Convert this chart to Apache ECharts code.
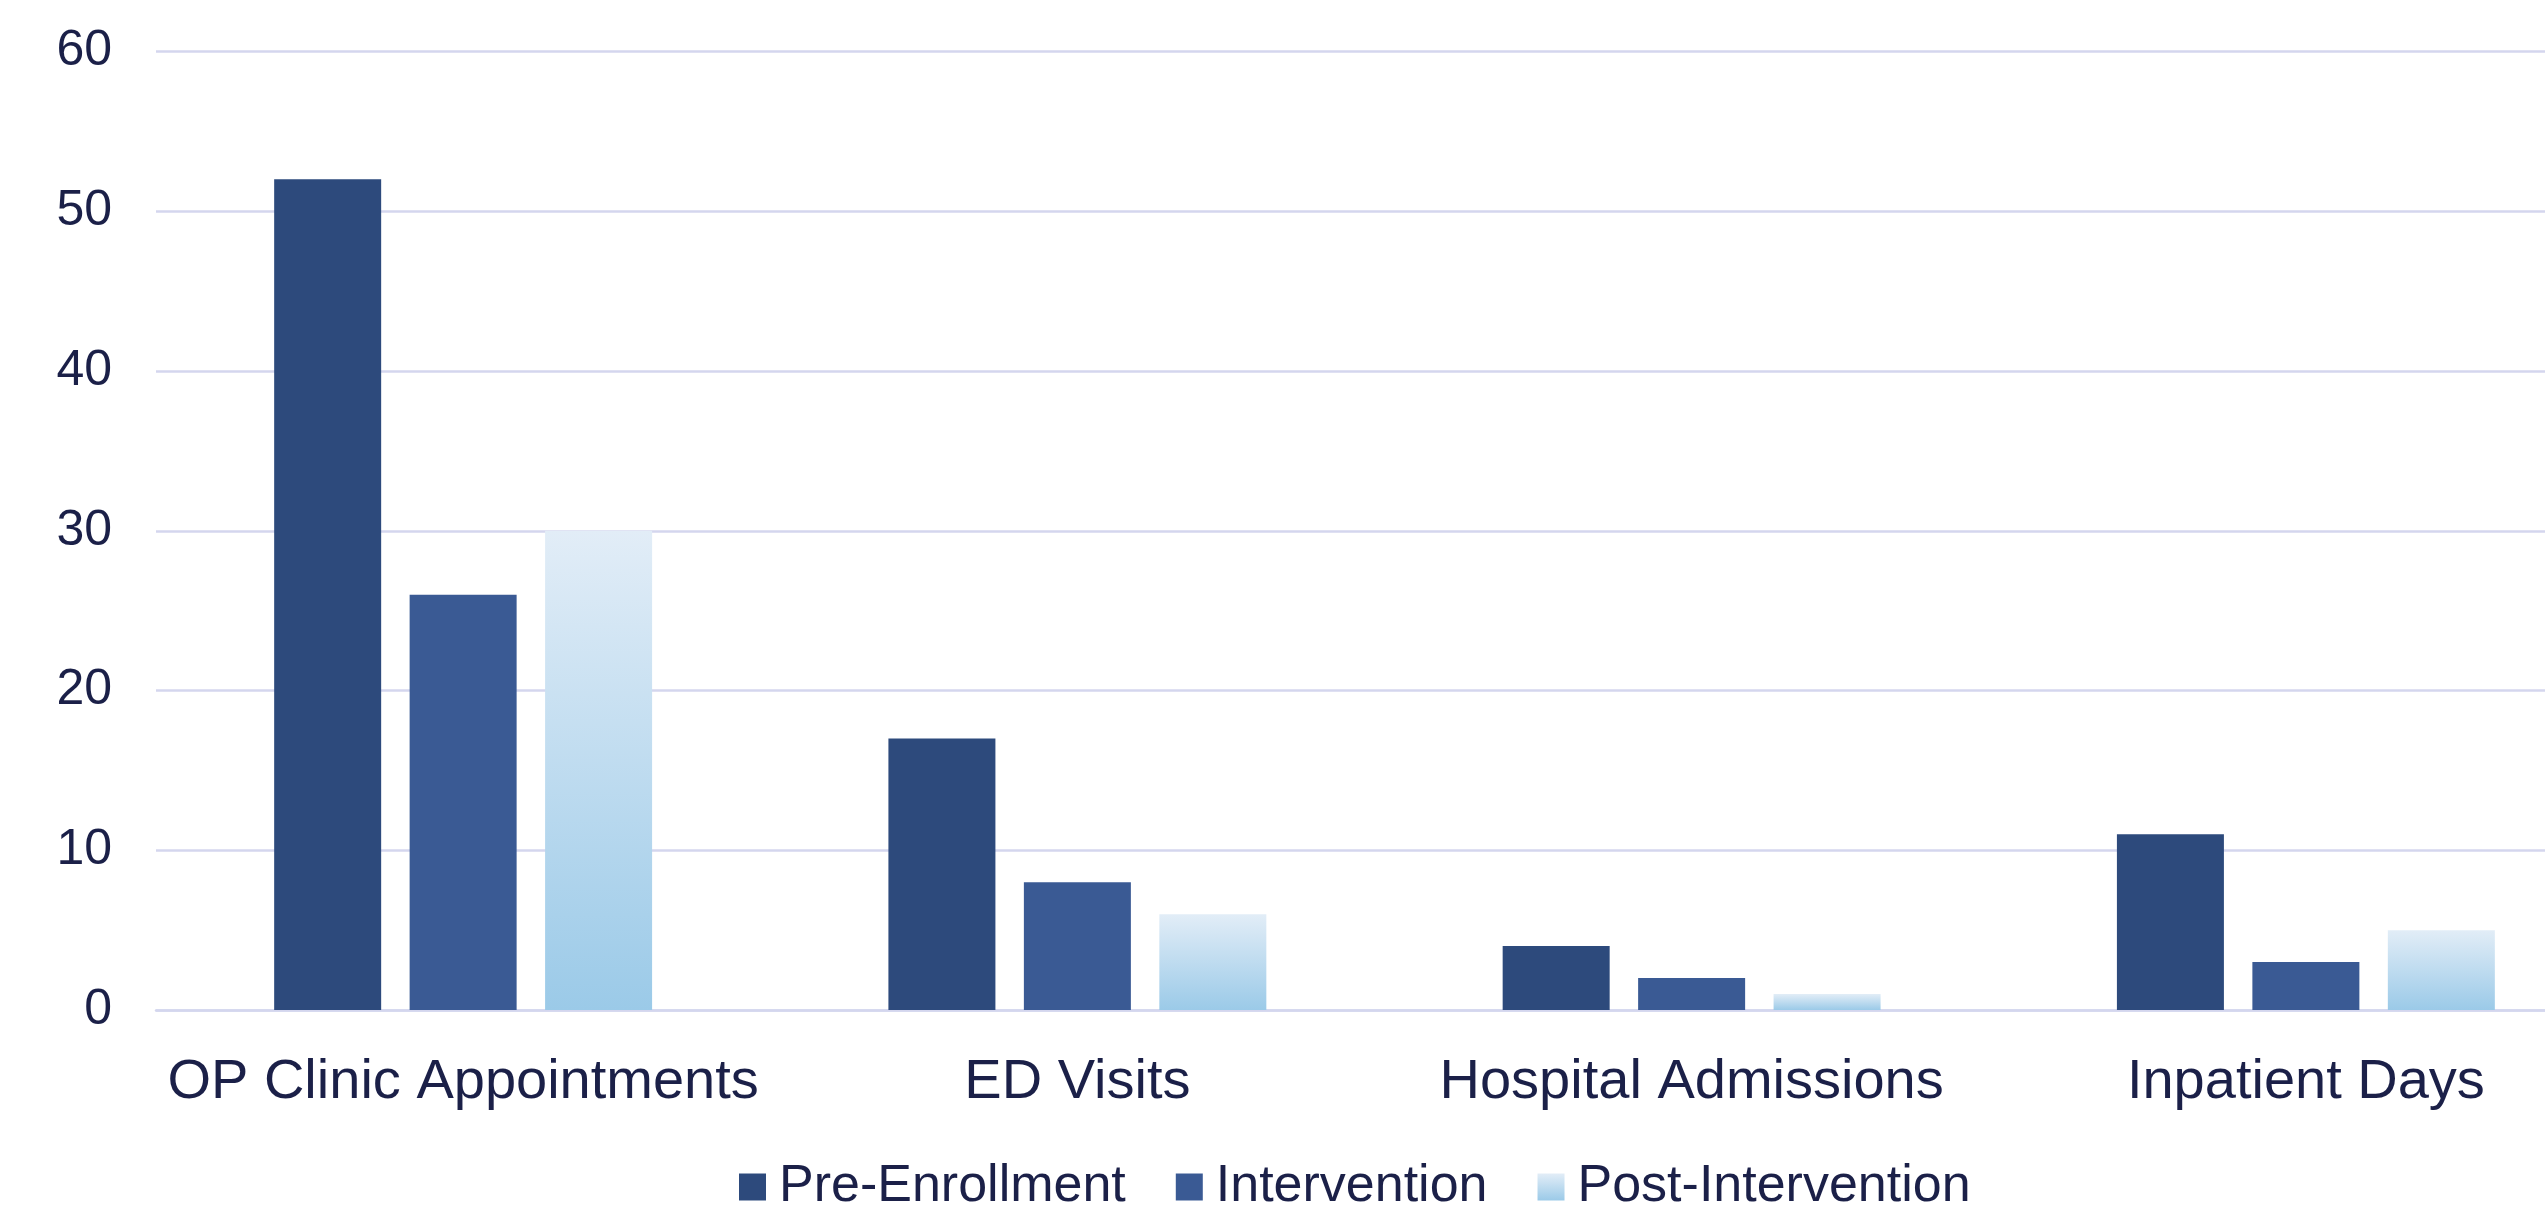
<!DOCTYPE html>
<html>
<head>
<meta charset="utf-8">
<title>Utilization by Period</title>
<script src="https://cdn.jsdelivr.net/npm/echarts@6/dist/echarts.min.js"></script>
<style>
  html, body { margin: 0; padding: 0; background: #ffffff; overflow: hidden; }
  #chart { width: 2545px; height: 1219px; }
</style>
</head>
<body>
<div id="chart"></div>
<script>
// Categories and counts per period
const categories = ['OP Clinic Appointments', 'ED Visits', 'Hospital Admissions', 'Inpatient Days'];
const preEnrollment = [52, 17, 4, 11];
const intervention = [26, 8, 2, 3];
const postIntervention = [30, 6, 1, 5];
const seriesNames = ['Pre-Enrollment', 'Intervention', 'Post-Intervention'];
const yTicks = { min: 0, max: 60, interval: 10 };

const textColor = '#1B2048';
const fontFamily = '"Liberation Sans", Arial, sans-serif';

const chart = echarts.init(document.getElementById('chart'), null, { renderer: 'canvas' });

const postGradient = new echarts.graphic.LinearGradient(0, 0, 0, 1, [
  { offset: 0, color: '#E2EDF7' },
  { offset: 1, color: '#9BCAE8' }
]);

const barCommon = {
  type: 'bar',
  barWidth: 107,
  barGap: '26.6%',
  animation: false
};

chart.setOption({
  backgroundColor: '#ffffff',
  animation: false,
  // plot area runs past the right edge of the canvas
  grid: {
    left: 156,
    width: 2457,
    top: 51.5,
    bottom: 209,
    containLabel: false,
    outerBoundsMode: 'none'
  },
  legend: {
    left: 734,
    top: 1156,
    itemWidth: 27,
    itemHeight: 27,
    itemGap: 50,
    icon: 'rect',
    textStyle: {
      color: textColor,
      fontFamily: fontFamily,
      fontSize: 52,
      padding: [0, 0, 0, 8]
    },
    data: seriesNames
  },
  xAxis: {
    type: 'category',
    data: categories,
    axisLine: { show: true, lineStyle: { color: '#D4D6EE', width: 2.5 } },
    axisTick: { show: false },
    axisLabel: {
      color: textColor,
      fontFamily: fontFamily,
      fontSize: 56,
      margin: 45,
      interval: 0
    }
  },
  yAxis: {
    type: 'value',
    min: yTicks.min,
    max: yTicks.max,
    interval: yTicks.interval,
    axisLine: { show: false },
    axisTick: { show: false },
    splitLine: { lineStyle: { color: '#D4D6EE', width: 2.5 } },
    axisLabel: {
      color: textColor,
      fontFamily: fontFamily,
      fontSize: 50,
      margin: 44
    }
  },
  series: [
    Object.assign({}, barCommon, {
      name: seriesNames[0],
      data: preEnrollment,
      itemStyle: { color: '#2D4A7C' }
    }),
    Object.assign({}, barCommon, {
      name: seriesNames[1],
      data: intervention,
      itemStyle: { color: '#3A5A94' }
    }),
    Object.assign({}, barCommon, {
      name: seriesNames[2],
      data: postIntervention,
      itemStyle: { color: postGradient }
    })
  ]
});
</script>
</body>
</html>
